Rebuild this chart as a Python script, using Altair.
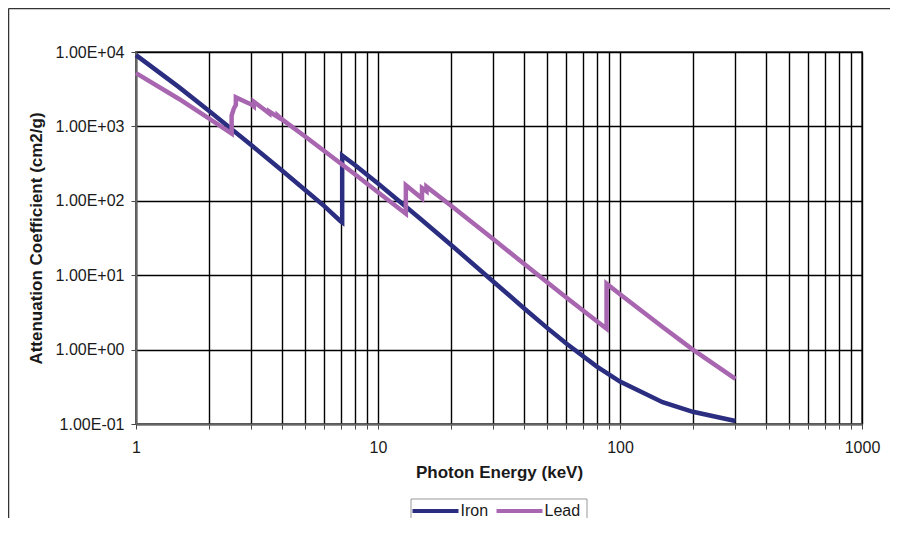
import altair as alt
import pandas as pd

# ---- data ----
iron_energy = [1.0, 1.5, 2.0, 3.0, 4.0, 5.0, 6.0, 7.0, 7.112, 7.112, 8.0, 10.0,
               15.0, 20.0, 30.0, 40.0, 50.0, 60.0, 80.0, 100.0, 150.0, 200.0, 300.0]
iron_mu = [9085, 3399, 1626, 557.6, 256.7, 139.8, 84.84, 53.19, 51.33, 407.6, 305.6, 170.6,
           57.08, 25.68, 8.176, 3.629, 1.958, 1.205, 0.5952, 0.3717, 0.1964, 0.146, 0.1099]

lead_energy = [1.0, 1.5, 2.0, 2.484, 2.484, 2.534, 2.586, 2.586, 3.0, 3.066, 3.066, 3.301,
               3.554, 3.554, 3.785, 3.851, 3.851, 4.0, 5.0, 6.0, 8.0, 10.0, 13.035, 13.035,
               15.0, 15.2, 15.2, 15.527, 15.861, 15.861, 20.0, 30.0, 40.0, 50.0, 60.0, 80.0,
               88.005, 88.005, 100.0, 150.0, 200.0, 300.0]
lead_mu = [5210, 2356, 1285, 800.6, 1397, 1726, 1944, 2458, 1965, 1857, 2146, 1796,
           1496, 1585, 1387, 1339, 1397, 1251, 730.4, 467.2, 228.7, 130.6, 67.01, 162.1,
           111.6, 107.8, 148.5, 141.6, 134.4, 154.8, 86.36, 30.32, 14.36, 8.041, 5.021, 2.419,
           1.910, 7.683, 5.549, 2.014, 0.9985, 0.4031]

series_names = ["Iron", "Lead"]
series_colors = ["#2b2e80", "#a866b0"]

x_ticks = [1, 2, 3, 4, 5, 6, 7, 8, 9,
           10, 20, 30, 40, 50, 60, 70, 80, 90,
           100, 200, 300, 400, 500, 600, 700, 800, 900, 1000]
x_labels = [1, 10, 100, 1000]
y_ticks = [0.1, 1, 10, 100, 1000, 10000]
y_labels = ["1.00E-01", "1.00E+00", "1.00E+01", "1.00E+02", "1.00E+03", "1.00E+04"]

# ---- table ----
rows = []
for name, es, ms in [("Iron", iron_energy, iron_mu), ("Lead", lead_energy, lead_mu)]:
    for i, (e, m) in enumerate(zip(es, ms)):
        rows.append({"series": name, "energy": e, "mu": m, "order": i})
df = pd.DataFrame(rows)

FONT = "Liberation Sans"
TXT = "#1a1a1a"

x_label_expr = "indexof([" + ",".join(str(v) for v in x_labels) + "], datum.value) >= 0 ? datum.value : ''"
y_label_expr = "[" + ",".join("'" + s + "'" for s in y_labels) + "][round(log(datum.value)/LN10) + 1]"

lines = alt.Chart(df).mark_line(strokeWidth=4.5, strokeCap="butt").encode(
    x=alt.X("energy:Q",
            scale=alt.Scale(type="log", domain=[1, 1000], nice=False),
            axis=alt.Axis(values=x_ticks, labelExpr=x_label_expr, title="Photon Energy (keV)",
                          grid=True, gridColor="#000000", gridWidth=1.4, gridOpacity=1,
                          domainColor="#666666", domainWidth=2, tickColor="#444444", tickSize=5,
                          labelFont=FONT, labelFontSize=16, labelColor=TXT, labelPadding=10,
                          labelFlush=False, labelOverlap=False,
                          titleFont=FONT, titleFontSize=17, titleFontWeight="bold", titleColor=TXT,
                          titleY=53, titleBaseline="alphabetic")),
    y=alt.Y("mu:Q",
            scale=alt.Scale(type="log", domain=[0.1, 10000], nice=False),
            axis=alt.Axis(values=y_ticks, labelExpr=y_label_expr,
                          title="Attenuation Coefficient (cm2/g)",
                          grid=True, gridColor="#000000", gridWidth=1.4, gridOpacity=1,
                          domainColor="#666666", domainWidth=2, tickColor="#444444", tickSize=5,
                          labelFont=FONT, labelFontSize=16, labelColor=TXT, labelPadding=7,
                          labelOverlap=False,
                          titleFont=FONT, titleFontSize=17, titleFontWeight="bold", titleColor=TXT,
                          titleX=-100, titleY=186, titleAngle=270, titleAlign="center",
                          titleBaseline="middle")),
    color=alt.Color("series:N",
                    scale=alt.Scale(domain=series_names, range=series_colors),
                    legend=alt.Legend(title=None, orient="none", legendX=274.5, legendY=434,
                                      direction="horizontal", symbolType="stroke",
                                      symbolSize=2116, symbolStrokeWidth=4,
                                      labelFont=FONT, labelFontSize=16, labelColor=TXT,
                                      labelOffset=0, columnPadding=0, padding=0)),
    order="order:Q",
)

dummy = pd.DataFrame({"k": [0]})
frame_left = alt.Chart(dummy).mark_rule(color="#333333", strokeWidth=1.5).encode(
    x=alt.value(-127.5), y=alt.value(-43.5), y2=alt.value(600))
frame_top = alt.Chart(dummy).mark_rule(color="#333333", strokeWidth=1.5).encode(
    x=alt.value(-127.5), x2=alt.value(900), y=alt.value(-43.5))
box_left = alt.Chart(dummy).mark_rule(color="#999999", strokeWidth=1).encode(
    x=alt.value(275), y=alt.value(447), y2=alt.value(475))
box_right = alt.Chart(dummy).mark_rule(color="#999999", strokeWidth=1).encode(
    x=alt.value(451), y=alt.value(447), y2=alt.value(475))
box_top = alt.Chart(dummy).mark_rule(color="#999999", strokeWidth=1).encode(
    x=alt.value(275), x2=alt.value(451), y=alt.value(447))

chart = alt.layer(lines, frame_left, frame_top, box_left, box_right, box_top).properties(
    width=726, height=372,
    autosize=alt.AutoSizeParams(type="none"),
    padding={"left": 128, "top": 44, "right": 28, "bottom": 94},
    background="#ffffff",
).configure_view(stroke="#666666", strokeWidth=2)

chart.save("out.html", embed_options={"renderer": "svg", "actions": False})
